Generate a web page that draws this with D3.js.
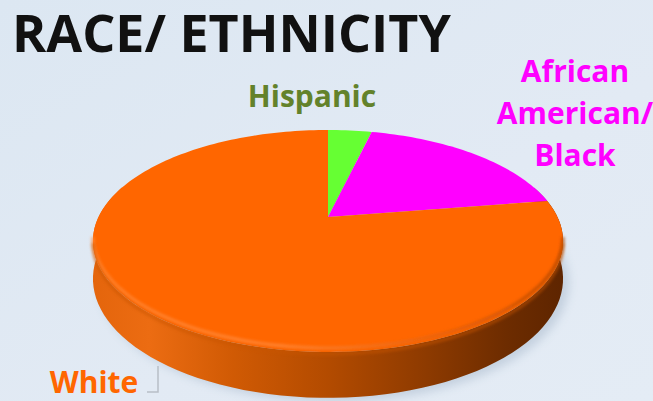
<!DOCTYPE html>
<html lang="en">
<head>
  <meta charset="utf-8">
  <title>race / ethnicity</title>
  <style>
  * { margin:0; padding:0; }
  body { width:653px; height:401px; overflow:hidden; background:#dfe9f3; }
  text { font-family: "Open Sans", "Noto Sans", Arial, sans-serif; font-weight: bold; }
  </style>
  <script src="https://d3js.org/d3.v7.min.js"></script>
</head>
<body>
  <div id="chart"></div>
  <script type="text/javascript">
  var categories=["Hispanic","African American/ Black","White"];
  var values=[3.7,18.8,77.5];
  var colors=["#66ff33","#ff00ff","#ff6600"];
  var sideColors=["#3f9f1f","#a000a0","#b04a00"];
  var labelColors=["#63822b","#ff00ff","#ff6600"];
  var labelLines=[["Hispanic"],["African","American/","Black"],["White"]];

  var w=653, h=401;
  var svg=d3.select("#chart").append("svg")
    .attr("width",w)
    .attr("height",h);

  var defs=svg.append("defs");
  var bg=defs.append("linearGradient").attr("id","bg")
    .attr("x1","0").attr("y1","0").attr("x2","1").attr("y2","1");
  bg.append("stop").attr("offset","0").attr("stop-color","#dce7f2");
  bg.append("stop").attr("offset","0.6").attr("stop-color","#e2eaf4");
  bg.append("stop").attr("offset","1").attr("stop-color","#e4ecf5");

  svg.append("rect").attr("width",w).attr("height",h).attr("fill","url(#bg)");

  // projection of the disc: u right, v away from viewer, t = 0 top face, 1 bottom
  var cx=328, cy=217, A=229.5, B=105.8, p=0.216, H=36;
  function proj(a,t){
    var u=Math.sin(a), v=Math.cos(a);
    var d=1+p*v;
    return [cx+A*u/d, cy+(-B*v+H*t)/d];
  }

  var pie=d3.pie().sort(null).value(function(d){return d;});
  var arcs=pie(values);

  var side=defs.append("linearGradient").attr("id","side")
    .attr("gradientUnits","userSpaceOnUse")
    .attr("x1",cx-235).attr("y1",0).attr("x2",cx+235).attr("y2",0);
  [[0,"#e4650c"],[0.12,"#ec6c12"],[0.3,"#d05a04"],[0.5,"#b34b00"],[0.7,"#8f3b00"],[0.88,"#6d2c00"],[1,"#5e2500"]]
    .forEach(function(s){side.append("stop").attr("offset",s[0]).attr("stop-color",s[1]);});

  var rim=defs.append("linearGradient").attr("id","rim")
    .attr("gradientUnits","userSpaceOnUse")
    .attr("x1",cx-235).attr("y1",0).attr("x2",cx+235).attr("y2",0);
  [[0,"#ff8a3a"],[0.4,"#ff8c40"],[0.75,"#e06010"],[1,"#a84300"]]
    .forEach(function(s){rim.append("stop").attr("offset",s[0]).attr("stop-color",s[1]);});

  var blur=defs.append("filter").attr("id","blur").attr("x","-20%").attr("y","-20%").attr("width","140%").attr("height","140%");
  blur.append("feGaussianBlur").attr("stdDeviation",5);
  var soft=defs.append("filter").attr("id","soft");
  soft.append("feGaussianBlur").attr("stdDeviation",1.6);

  function rimPoints(a0,a1,t,n){
    var pts=[];
    for(var i=0;i<=n;i++){ pts.push(proj(a0+(a1-a0)*i/n,t)); }
    return pts;
  }
  var line=d3.line();

  // soft shadow under the pie
  var shadowPts=rimPoints(0,2*Math.PI,1,120).map(function(q){return [q[0]+6,q[1]+4];});
  svg.append("path").attr("d",line(shadowPts)+"Z")
    .attr("fill","#9fb0c4").attr("opacity",0.45).attr("filter","url(#blur)");

  // side wall, front half only
  var lo=Math.PI/2-0.3, hi=3*Math.PI/2+0.3;
  arcs.forEach(function(d,i){
    var a0=Math.max(d.startAngle,lo), a1=Math.min(d.endAngle,hi);
    if(a1<=a0) return;
    var top=rimPoints(a0,a1,0,80), bot=rimPoints(a1,a0,1,80);
    svg.append("path").attr("d",line(top.concat(bot))+"Z")
      .attr("fill", i==2 ? "url(#side)" : sideColors[i]);
  });

  // top face
  arcs.forEach(function(d,i){
    var n=Math.max(4,Math.ceil((d.endAngle-d.startAngle)*40));
    var pts=[[cx,cy]].concat(rimPoints(d.startAngle,d.endAngle,0,n));
    svg.append("path").attr("d",line(pts)+"Z").attr("fill",colors[i]);
  });

  // rounded bevel along the visible front rim
  var silA=Math.acos(-p);
  var bevel=rimPoints(silA,2*Math.PI-silA,0,120).map(function(q){return [q[0],q[1]-4];});
  svg.append("path").attr("d",line(bevel))
    .attr("fill","none").attr("stroke","url(#rim)").attr("stroke-width",3)
    .attr("opacity",0.8).attr("filter","url(#soft)");
  var bevel2=rimPoints(silA,2*Math.PI-silA,0,120).map(function(q){return [q[0],q[1]+2];});
  svg.append("path").attr("d",line(bevel2))
    .attr("fill","none").attr("stroke","#c85400").attr("stroke-width",3)
    .attr("opacity",0.6).attr("filter","url(#soft)");

  // title
  svg.append("text").attr("x",12).attr("y",52)
    .attr("font-size",52).attr("fill","#111")
    .text("RACE/ ETHNICITY");

  // labels
  var labelLayout=[{x:312,y:107,lh:0},{x:575,y:82,lh:42},{x:94,y:393,lh:0}];
  labelLines.forEach(function(lines,i){
    var t=svg.append("text").attr("text-anchor","middle")
      .attr("font-size",30).attr("fill",labelColors[i]);
    lines.forEach(function(s,j){
      t.append("tspan").attr("x",labelLayout[i].x).attr("y",labelLayout[i].y+j*labelLayout[i].lh).text(s);
    });
  });
  // small corner mark by the White label
  svg.append("path").attr("d","M158,366V392H147")
    .attr("fill","none").attr("stroke","#b8bec6").attr("stroke-width",1.5);
  </script>
</body>
</html>
